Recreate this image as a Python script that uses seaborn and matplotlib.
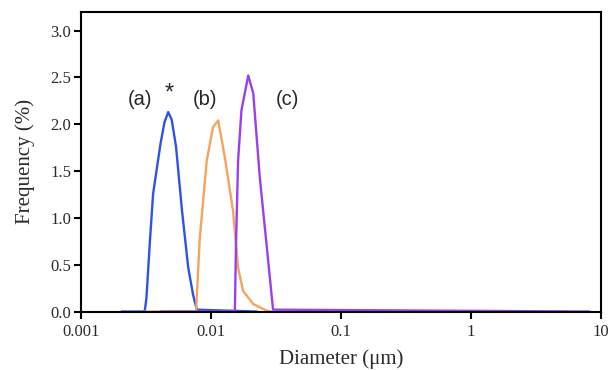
import matplotlib
matplotlib.use("Agg")
import matplotlib.pyplot as plt
import seaborn as sns
import pandas as pd

# particle size distributions
diam_a = [0.00206, 0.0031, 0.0032, 0.0034, 0.0036, 0.0041, 0.0044, 0.0047, 0.0050,
          0.0054, 0.0060, 0.0067, 0.0073, 0.0078, 0.0226]
freq_a = [0, 0, 0.15, 0.75, 1.26, 1.79, 2.02, 2.13, 2.05, 1.76, 1.08, 0.47, 0.18, 0.02, 0]

diam_b = [0.0031, 0.0077, 0.0082, 0.0093, 0.0104, 0.0114, 0.0128, 0.0148, 0.0162,
          0.0177, 0.0212, 0.0268, 0.0293]
freq_b = [0, 0, 0.76, 1.61, 1.97, 2.04, 1.65, 1.08, 0.47, 0.22, 0.08, 0.01, 0]

diam_c = [0.0041, 0.0153, 0.0156, 0.0162, 0.0172, 0.0194, 0.0212, 0.0238, 0.0268,
          0.0301, 8.2]
freq_c = [0, 0, 0.69, 1.61, 2.15, 2.52, 2.33, 1.43, 0.72, 0.02, 0]

samples = ['(a)', '(b)', '(c)']
colors = ['#2f52e8', '#f5a35e', '#9a3ff0']

xticks = [0.001, 0.01, 0.1, 1, 10]
xtick_labels = ['0.001', '0.01', '0.1', '1', '10']
yticks = [0.0, 0.5, 1.0, 1.5, 2.0, 2.5, 3.0]

df = pd.concat([
    pd.DataFrame({'diameter': diam_a, 'freq': freq_a, 'sample': '(a)'}),
    pd.DataFrame({'diameter': diam_b, 'freq': freq_b, 'sample': '(b)'}),
    pd.DataFrame({'diameter': diam_c, 'freq': freq_c, 'sample': '(c)'}),
])

sns.set_style('ticks')
plt.rcParams['font.family'] = ['Liberation Serif', 'DejaVu Serif']

fig = plt.figure(figsize=(6.12, 3.70), dpi=100)
ax = fig.add_axes([0.132, 0.158, 0.850, 0.810])

sns.lineplot(data=df, x='diameter', y='freq', hue='sample', palette=colors,
             hue_order=samples, sort=False, estimator=None, linewidth=1.7,
             legend=False, ax=ax)

ax.set_xscale('log')
ax.set_xlim(0.001, 10)
ax.set_ylim(0, 3.2)
ax.set_xticks(xticks)
ax.set_xticklabels(xtick_labels)
ax.minorticks_off()
ax.set_yticks(yticks)
ax.set_yticklabels([f'{v:.1f}' for v in yticks])

ax.tick_params(direction='out', length=5, width=1.5, labelsize=12,
               color='black', labelcolor='#2a2a2a')
ax.tick_params(axis='x', pad=4)
ax.tick_params(axis='y', pad=2)
for s in ax.spines.values():
    s.set_linewidth(1.5)
    s.set_color('black')

ax.set_xlabel('Diameter (\u03bcm)', fontsize=15, labelpad=7, color='#2a2a2a')
ax.set_ylabel('Frequency (%)', fontsize=15, labelpad=11, color='#2a2a2a')

# sample labels
for txt, x in zip(samples, [0.00284, 0.0090, 0.0385]):
    ax.text(x, 2.26, txt, fontsize=14.5, family='Liberation Sans', ha='center', va='center')
ax.text(0.00475, 2.33, '*', fontsize=17, family='Liberation Sans', ha='center', va='center')

fig.savefig('out.png', dpi=100)
